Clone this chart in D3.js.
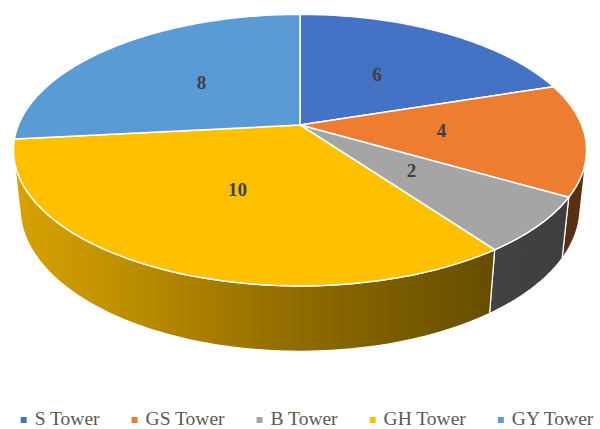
<!DOCTYPE html>
<html>
<head>
<meta charset="utf-8">
<script src="https://cdn.jsdelivr.net/npm/d3@7"></script>
<style>
  body { margin: 0; background: #fff; }
  svg { display: block; }
</style>
</head>
<body>
<svg id="chart" width="600" height="429"></svg>
<script>
// chart data
const categories = ["S Tower", "GS Tower", "B Tower", "GH Tower", "GY Tower"];
const values = [6, 4, 2, 10, 8];
const colors = ["#4472C4", "#ED7D31", "#A5A5A5", "#FFC000", "#5B9BD5"];

const svg = d3.select("#chart");
const defs = svg.append("defs");

// camera set-up for the tilted 3D disc
const cx = 300, cy = 125;
const sinPhi = 0.4656, cosPhi = Math.sqrt(1 - sinPhi * sinPhi);
const D = 4.78, F = 1346, thick = 0.2345;

// project a point on the disc (angle from 12 o'clock clockwise, radius, height)
function proj(theta, r, y) {
  const x = r * Math.sin(theta), z = -r * Math.cos(theta);
  const yc = y * cosPhi - z * sinPhi;
  const depth = D - y * sinPhi - z * cosPhi;
  return [cx + F * x / depth, cy - F * yc / depth];
}

// visible part of the outer wall
const alpha = Math.acos(1 / (D * cosPhi));
const visA = Math.PI - alpha, visB = Math.PI + alpha;

const pie = d3.pie().sort(null).value(d => d);
const arcs = pie(values);

function arcPoints(a, b, r, y) {
  const n = Math.max(2, Math.ceil(Math.abs(b - a) / 0.02));
  return d3.range(n + 1).map(i => proj(a + (b - a) * i / n, r, y));
}

// shading of the wall depending on screen x
const shade = d3.scaleLinear().domain([15, 300, 494, 590]).range([0.85, 0.56, 0.40, 0.37]).clamp(true);

// walls
arcs.forEach((d, i) => {
  const a = Math.max(d.startAngle, visA), b = Math.min(d.endAngle, visB);
  if (b <= a) return;
  const grad = defs.append("linearGradient")
    .attr("id", "wall" + i)
    .attr("gradientUnits", "userSpaceOnUse")
    .attr("x1", 0).attr("x2", 600).attr("y1", 0).attr("y2", 0);
  const base = d3.rgb(colors[i]);
  d3.range(0, 601, 50).forEach(x => {
    const k = shade(x);
    grad.append("stop")
      .attr("offset", x / 600)
      .attr("stop-color", d3.rgb(base.r * k, base.g * k, base.b * k));
  });
  const pts = arcPoints(a, b, 1, 0).concat(arcPoints(b, a, 1, -thick));
  svg.append("path")
    .attr("d", d3.line()(pts) + "Z")
    .attr("fill", "url(#wall" + i + ")")
    .attr("stroke", "#fff")
    .attr("stroke-width", 1.2)
    .attr("stroke-linejoin", "round");
});

// top faces
arcs.forEach((d, i) => {
  const pts = [proj(0, 0, 0)].concat(arcPoints(d.startAngle, d.endAngle, 1, 0));
  svg.append("path")
    .attr("d", d3.line()(pts) + "Z")
    .attr("fill", colors[i])
    .attr("stroke", "#fff")
    .attr("stroke-width", 1.5)
    .attr("stroke-linejoin", "round");
});

// data labels
arcs.forEach(d => {
  const p = proj((d.startAngle + d.endAngle) / 2, 0.5, 0);
  svg.append("text")
    .attr("x", p[0])
    .attr("y", p[1] + 1)
    .attr("text-anchor", "middle")
    .attr("dominant-baseline", "middle")
    .attr("font-family", "'Liberation Serif', 'Times New Roman', serif")
    .attr("font-weight", "bold")
    .attr("font-size", 19)
    .attr("fill", "#404040")
    .text(d.data);
});

// legend
const legend = svg.append("g");
const gap = 32;
let lx = 0;
categories.forEach((c, i) => {
  const g = legend.append("g").attr("transform", "translate(" + lx + ",0)");
  g.append("rect")
    .attr("x", 0).attr("y", 417)
    .attr("width", 6).attr("height", 6)
    .attr("fill", colors[i]);
  const t = g.append("text")
    .attr("x", 14).attr("y", 424.5)
    .attr("font-family", "'Liberation Serif', 'Times New Roman', serif")
    .attr("font-size", 19.5)
    .attr("fill", "#595959")
    .text(c);
  lx += 14 + t.node().getComputedTextLength() + gap;
});
const total = lx - gap;
legend.attr("transform", "translate(" + (307 - total / 2) + ",0)");
</script>
</body>
</html>
